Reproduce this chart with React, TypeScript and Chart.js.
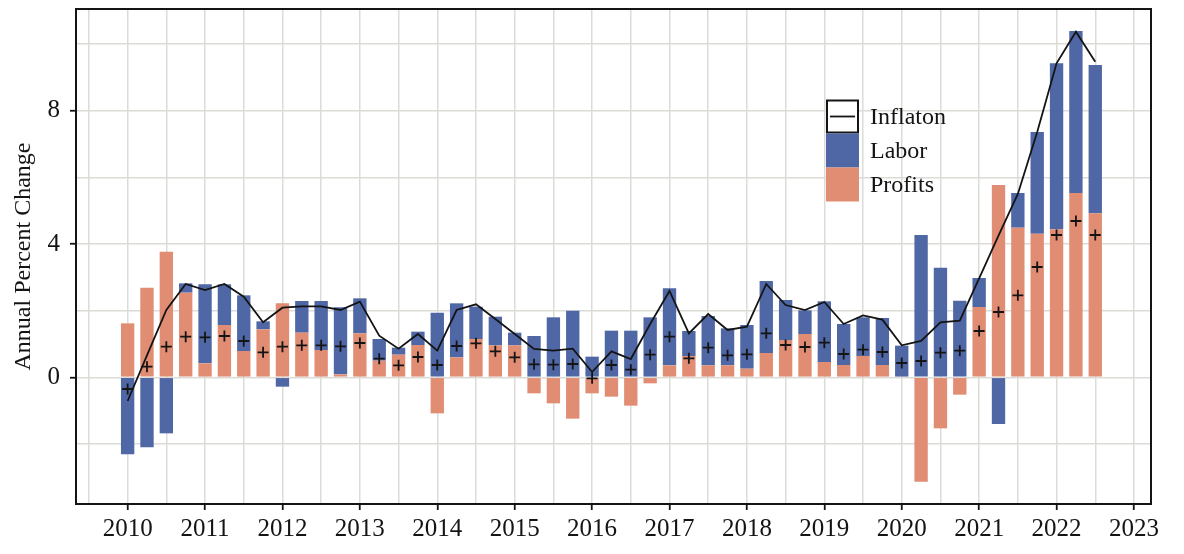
import { useEffect, useRef } from 'react';
import { Chart, registerables, type ChartConfiguration, type Plugin } from 'chart.js';

Chart.register(...registerables);

// quarterly observations, 2010Q1 .. 2022Q3
const quarters = [
  2010, 2010.25, 2010.5, 2010.75,
  2011, 2011.25, 2011.5, 2011.75,
  2012, 2012.25, 2012.5, 2012.75,
  2013, 2013.25, 2013.5, 2013.75,
  2014, 2014.25, 2014.5, 2014.75,
  2015, 2015.25, 2015.5, 2015.75,
  2016, 2016.25, 2016.5, 2016.75,
  2017, 2017.25, 2017.5, 2017.75,
  2018, 2018.25, 2018.5, 2018.75,
  2019, 2019.25, 2019.5, 2019.75,
  2020, 2020.25, 2020.5, 2020.75,
  2021, 2021.25, 2021.5, 2021.75,
  2022, 2022.25, 2022.5,
];

const profits = [
  1.62, 2.69, 3.77, 2.54,
  0.42, 1.57, 0.79, 1.44,
  2.22, 1.34, 0.82, 0.09,
  1.32, 0.5, 0.68, 0.97,
  -1.08, 0.6, 1.15, 0.96,
  0.96, -0.48, -0.78, -1.24,
  -0.48, -0.58, -0.85, -0.18,
  0.36, 0.64, 0.36, 0.36,
  0.26, 0.73, 1.12, 1.3,
  0.46, 0.37, 0.64, 0.37,
  0, -3.13, -1.53, -0.52,
  2.11, 5.77, 4.49, 4.31,
  4.44, 5.53, 4.92,
];

const labor = [
  -2.31, -2.1, -1.68, 0.28,
  2.37, 1.22, 1.67, 0.24,
  -0.28, 0.95, 1.47, 2.01,
  1.05, 0.65, 0.21, 0.4,
  1.94, 1.62, 0.97, 0.86,
  0.38, 1.24, 1.8, 2.0,
  0.62, 1.4, 1.4, 1.8,
  2.31, 0.75, 1.48, 1.11,
  1.31, 2.16, 1.2, 0.71,
  1.82, 1.23, 1.16, 1.41,
  0.95, 4.27, 3.29, 2.3,
  0.87, -1.4, 1.04, 3.05,
  4.98, 4.86, 4.45,
];

const inflation = [
  -0.71, 0.66, 2.02, 2.8,
  2.62, 2.8, 2.42, 1.65,
  2.09, 2.13, 2.13, 2.02,
  2.27, 1.25, 0.86, 1.3,
  0.8, 2.02, 2.19, 1.75,
  1.3, 0.85, 0.8, 0.86,
  0.16, 0.78, 0.55, 1.6,
  2.59, 1.32, 1.9, 1.42,
  1.52, 2.8, 2.17, 2.02,
  2.26, 1.6, 1.86, 1.73,
  0.96, 1.09, 1.65, 1.7,
  2.97, 4.25, 5.5, 7.36,
  9.42, 10.37, 9.47,
];

// the "+" markers
const markers = [
  -0.35, 0.32, 0.92, 1.22,
  1.2, 1.24, 1.09, 0.75,
  0.92, 0.96, 0.96, 0.93,
  1.03, 0.56, 0.36, 0.61,
  0.37, 0.94, 1.02, 0.78,
  0.6, 0.39, 0.38, 0.4,
  -0.03, 0.37, 0.23, 0.68,
  1.22, 0.57, 0.89, 0.66,
  0.69, 1.32, 0.97, 0.91,
  1.04, 0.7, 0.83, 0.76,
  0.43, 0.49, 0.74, 0.8,
  1.39, 1.96, 2.46, 3.31,
  4.27, 4.69, 4.27,
];

const SERIF = "'Liberation Serif', 'DejaVu Serif', serif";
const BLUE = '#5067a5';
const SALMON = '#e18d73';
const GRID = '#dcdcd7';
const INK = '#141414';
const CLEAR = 'rgba(0,0,0,0)';

const pts = (vals: number[]) => vals.map((y, i) => ({ x: quarters[i], y }));

// ggplot-like full panel border
const panelBorder: Plugin = {
  id: 'panelBorder',
  afterDatasetsDraw(chart) {
    const { ctx, chartArea: a } = chart;
    ctx.save();
    ctx.strokeStyle = INK;
    ctx.lineWidth = 2;
    ctx.strokeRect(a.left, a.top, a.right - a.left, a.bottom - a.top);
    ctx.restore();
  },
};

// legend drawn inside the panel with ggplot style keys
const keyLegend: Plugin = {
  id: 'keyLegend',
  afterDraw(chart) {
    const { ctx, chartArea: a } = chart;
    const left = a.left + 750;
    const top = a.top + 90.5;
    const w = 33;
    const h = 34;
    ctx.save();
    // Inflaton key
    ctx.fillStyle = '#fff';
    ctx.fillRect(left, top, w, h);
    ctx.strokeStyle = INK;
    ctx.lineWidth = 2;
    ctx.strokeRect(left + 1, top + 1, w - 2, h - 2);
    ctx.lineWidth = 1.8;
    ctx.beginPath();
    ctx.moveTo(left + 4, top + h / 2);
    ctx.lineTo(left + w - 4, top + h / 2);
    ctx.stroke();
    // Labor, Profits keys
    ctx.fillStyle = BLUE;
    ctx.fillRect(left, top + h, w, h);
    ctx.fillStyle = SALMON;
    ctx.fillRect(left, top + 2 * h, w, h);
    ctx.fillStyle = INK;
    ctx.font = `24px ${SERIF}`;
    ctx.textBaseline = 'middle';
    ctx.textAlign = 'left';
    ['Inflaton', 'Labor', 'Profits'].forEach((t, i) => {
      ctx.fillText(t, left + w + 11, top + h * i + h / 2 + 1);
    });
    ctx.restore();
  },
};

function InflationChart() {
  const canvasRef = useRef<HTMLCanvasElement>(null);
  const chartRef = useRef<Chart | null>(null);

  useEffect(() => {
    if (!canvasRef.current) return;
    if (chartRef.current) chartRef.current.destroy();

    const config: ChartConfiguration = {
      type: 'bar',
      data: {
        datasets: [
          {
            type: 'line',
            label: 'Inflaton',
            data: pts(inflation),
            borderColor: INK,
            borderWidth: 1.8,
            pointRadius: 0,
            tension: 0,
            stack: 'inflation',
            order: 0,
          },
          {
            type: 'line',
            label: 'markers',
            data: pts(markers),
            showLine: false,
            pointStyle: 'cross',
            pointRadius: 5.5,
            pointBorderColor: INK,
            pointBorderWidth: 1.8,
            stack: 'markers',
            order: 1,
          },
          {
            type: 'bar',
            label: 'Profits',
            data: pts(profits),
            backgroundColor: SALMON,
            borderWidth: 0,
            stack: 'components',
            order: 2,
          },
          {
            type: 'bar',
            label: 'Labor',
            data: pts(labor),
            backgroundColor: BLUE,
            borderWidth: 0,
            stack: 'components',
            order: 2,
          },
        ] as any,
      },
      options: {
        animation: false,
        responsive: true,
        maintainAspectRatio: false,
        layout: { padding: { left: 0, top: 9, right: 33, bottom: 0 } },
        datasets: {
          bar: { categoryPercentage: 1, barPercentage: 0.69 },
        },
        plugins: {
          legend: { display: false },
          tooltip: { enabled: false },
        },
        scales: {
          x: {
            type: 'linear',
            stacked: true,
            offset: false,
            min: 2009.333,
            max: 2023.22,
            afterFit: (s: any) => {
              s.height = 50;
              s.paddingLeft = 0;
              s.paddingRight = 0;
            },
            border: { display: false },
            grid: {
              offset: false,
              color: GRID,
              lineWidth: 1.5,
              drawTicks: true,
              tickLength: 6,
              tickWidth: 1.8,
              tickColor: (c: any) => (c.tick && Number.isInteger(c.tick.value) ? INK : CLEAR),
            },
            ticks: {
              stepSize: 0.5,
              maxTicksLimit: 60,
              includeBounds: false,
              autoSkip: false,
              maxRotation: 0,
              padding: 4,
              color: INK,
              font: { family: SERIF, size: 25 },
              callback: (v: any) => (Number.isInteger(v) ? String(v) : ''),
            },
          },
          y: {
            stacked: true,
            min: -3.8,
            max: 11.05,
            afterFit: (s: any) => {
              s.width = 76;
              s.paddingTop = 0;
              s.paddingBottom = 0;
            },
            border: { display: false },
            grid: {
              color: GRID,
              lineWidth: 1.5,
              drawTicks: true,
              tickLength: 6,
              tickWidth: 1.8,
              tickColor: (c: any) => (c.tick && c.tick.value % 4 === 0 ? INK : CLEAR),
            },
            ticks: {
              stepSize: 2,
              maxTicksLimit: 60,
              includeBounds: false,
              padding: 10,
              color: INK,
              font: { family: SERIF, size: 25 },
              callback: (v: any) => (v % 4 === 0 ? String(v) : ''),
            },
            title: {
              display: true,
              text: 'Annual Percent Change',
              color: INK,
              padding: { top: 9, bottom: 0 },
              font: { family: SERIF, size: 24 },
            },
          },
        },
      },
      plugins: [panelBorder, keyLegend],
    };

    chartRef.current = new Chart(canvasRef.current, config);

    return () => {
      if (chartRef.current) {
        chartRef.current.destroy();
        chartRef.current = null;
      }
    };
  }, []);

  return <canvas ref={canvasRef} />;
}

export default function App() {
  return (
    <div style={{ position: 'absolute', left: 0, top: 0, width: 1184, height: 554, background: '#fff' }}>
      <InflationChart />
    </div>
  );
}
